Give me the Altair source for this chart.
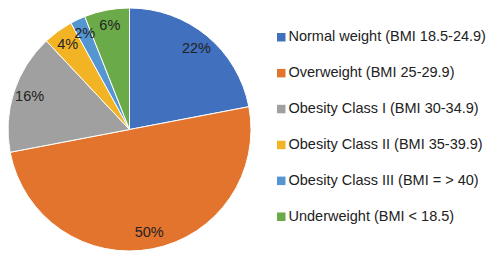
import altair as alt
import pandas as pd

categories = [
    "Normal weight (BMI 18.5-24.9)",
    "Overweight (BMI 25-29.9)",
    "Obesity Class I (BMI 30-34.9)",
    "Obesity Class II (BMI 35-39.9)",
    "Obesity Class III (BMI = > 40)",
    "Underweight (BMI < 18.5)",
]
percents = [22, 50, 16, 4, 2, 6]
colors = ["#4170BE", "#E3742E", "#A0A0A0", "#F2B325", "#5495D2", "#6AAA48"]

df = pd.DataFrame({
    "category": categories,
    "pct": percents,
    "idx": list(range(len(categories))),
})

FONT = "Liberation Sans"
cx, cy, R = 121.5, 121.5, 121.5

base = alt.Chart(df).encode(
    theta=alt.Theta("pct:Q", stack=True),
    order=alt.Order("idx:Q"),
    x=alt.value(cx),
    y=alt.value(cy),
)

arcs = base.mark_arc(stroke="white", strokeWidth=1).encode(
    radius=alt.value(R),
    color=alt.Color(
        "category:N",
        scale=alt.Scale(domain=categories, range=colors),
        legend=alt.Legend(
            title=None,
            orient="none",
            legendX=266,
            legendY=22,
            symbolType="square",
            symbolSize=72,
            symbolStrokeWidth=0,
            symbolOpacity=1,
            labelFont=FONT,
            labelFontSize=14.5,
            labelColor="#222222",
            labelOffset=0,
            labelLimit=300,
            rowPadding=20.9,
            padding=0,
        ),
    ),
)

labels = base.mark_text(
    radius=105, font=FONT, fontSize=14.5, color="#222222"
).transform_calculate(label="datum.pct + '%'").encode(text="label:N")

chart = (
    alt.layer(arcs, labels)
    .properties(width=482, height=243, padding=0, autosize=alt.AutoSizeParams(type="none"))
    .configure_view(stroke=None)
)

chart.save("out.html", embed_options={"renderer": "svg", "actions": False})
